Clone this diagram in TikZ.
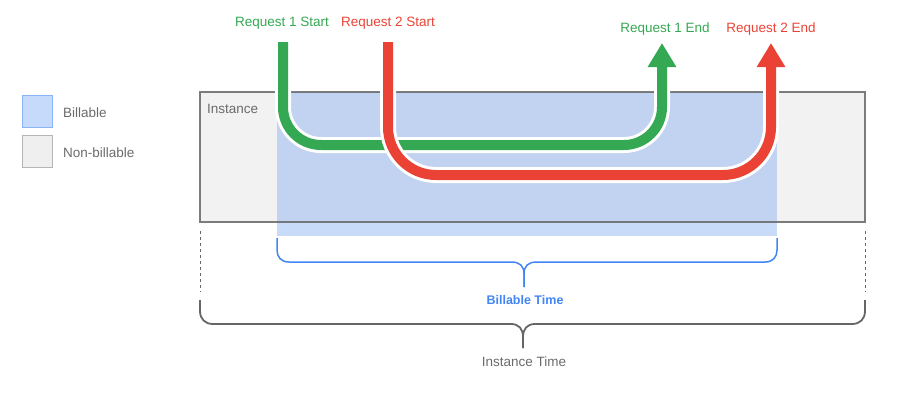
\documentclass[tikz,border=0pt]{standalone}
\usepackage{fontspec}
\setmainfont{Liberation Sans}
\usetikzlibrary{arrows.meta}
\definecolor{ggreen}{HTML}{34A853}
\definecolor{gred}{HTML}{EA4335}
\definecolor{gblue}{HTML}{4285F4}
\definecolor{lblue}{HTML}{C8DBF9}
\definecolor{iblue}{HTML}{C1D3F0}
\definecolor{ggray}{HTML}{666666}
\definecolor{tgray}{HTML}{6B6B6B}
\definecolor{gfill}{HTML}{F2F2F2}
\definecolor{legblue}{HTML}{C6DAFC}
\definecolor{legblueb}{HTML}{8AB4F8}
\definecolor{leggray}{HTML}{EFEFEF}
\definecolor{leggrayb}{HTML}{B5B5B5}
\begin{document}
\begin{tikzpicture}[x=1pt,y=-1pt,
  lbl/.style={font=\fontsize{13.5}{16}\selectfont, inner sep=0pt},
  halo/.style={white, line width=16pt, rounded corners=#1},
  req/.style={line width=10pt, rounded corners=#1, -{Triangle[width=27pt,length=24pt]}},
  bracebl/.style={gblue, line width=1.5pt},
  bracegr/.style={ggray, line width=1.8pt},
  guide/.style={ggray, line width=1pt, dash pattern=on 3pt off 3pt}]
\useasboundingbox (0,0) rectangle (908,402);

% legend
\draw[fill=legblue, draw=legblueb, line width=1pt] (22,95) rectangle (52,127);
\draw[fill=leggray, draw=leggrayb, line width=1pt] (22,135) rectangle (52,167);
\node[lbl, text=tgray, anchor=west] (lb1) at (63,113) {Billable};
\node[lbl, text=tgray, anchor=west] (lb2) at (63,153) {Non-billable};

% instance and billable area
\fill[gfill] (200,92) rectangle (865,222);
\fill[lblue] (277,92) rectangle (777,236);
\fill[iblue] (277,92) rectangle (777,222);
\draw[ggray, line width=1.6pt, opacity=0.85] (200,92) rectangle (865,222);
\node[lbl, text=tgray, anchor=west] (inst) at (207,109) {Instance};

% request paths
\coordinate (g0) at (283,42);
\coordinate (g1) at (283,145);
\coordinate (g2) at (662,145);
\coordinate (g3) at (662,67);
\coordinate (g4) at (662,43);
\coordinate (r0) at (388,42);
\coordinate (r1) at (388,175);
\coordinate (r2) at (771,175);
\coordinate (r3) at (771,67);
\coordinate (r4) at (771,43);
\draw[halo=38pt] (g0) -- (g1) -- (g2) -- (g3);
\draw[req=38pt, ggreen] (g0) -- (g1) -- (g2) -- (g4);
\draw[halo=48pt] (r0) -- (r1) -- (r2) -- (r3);
\draw[req=48pt, gred] (r0) -- (r1) -- (r2) -- (r4);

\node[lbl, text=ggreen] (s1) at (282,23.5) {Request 1 Start};
\node[lbl, text=gred] (s2) at (388,23.5) {Request 2 Start};
\node[lbl, text=ggreen] (e1) at (665,29.5) {Request 1 End};
\node[lbl, text=gred] (e2) at (771,29.5) {Request 2 End};

% guides
\coordinate (dl0) at (200,231); \coordinate (dl1) at (200,292);
\coordinate (dr0) at (865,231); \coordinate (dr1) at (865,292);
\draw[guide] (dl0) -- (dl1);
\draw[guide] (dr0) -- (dr1);

% billable brace
\draw[bracebl] (277,238) -- (277,250) .. controls (277,257) and (281,262) .. (289,262)
  -- (511,262) .. controls (520,262) and (524,266) .. (524,274) -- (524,287);
\draw[bracebl] (524,287) -- (524,274) .. controls (524,266) and (528,262) .. (537,262)
  -- (765,262) .. controls (773,262) and (777,257) .. (777,250) -- (777,238);
\node[font=\bfseries\fontsize{12.5}{15}\selectfont, inner sep=0pt, text=gblue] (bt) at (525,300) {Billable Time};

% instance brace
\draw[bracegr] (200,300) -- (200,311) .. controls (200,319) and (205,324) .. (213,324)
  -- (511,324) .. controls (519,324) and (523,329) .. (523,337) -- (523,348);
\draw[bracegr] (523,348) -- (523,337) .. controls (523,329) and (527,324) .. (535,324)
  -- (852,324) .. controls (860,324) and (865,319) .. (865,311) -- (865,300);
\node[lbl, text=tgray] (it) at (524,362) {Instance Time};
\end{tikzpicture}
\end{document}
